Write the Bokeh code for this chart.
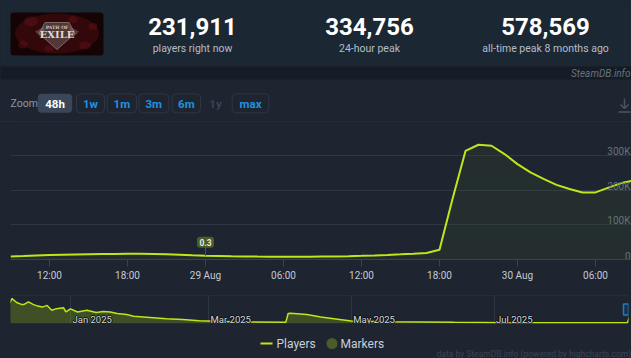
import pandas as pd
from bokeh.plotting import figure
from bokeh.layouts import column
from bokeh.models import Range1d, FixedTicker, Grid, Span
from bokeh.core.properties import value
from bokeh.embed import file_html
from bokeh.resources import INLINE

# ---------------- data ----------------
stat_values = ["231,911", "334,756", "578,569"]
stat_labels = ["players right now", "24-hour peak", "all-time peak 8 months ago"]
zoom_buttons = ["48h", "1w", "1m", "3m", "6m", "1y", "max"]
zoom_active = "48h"
zoom_disabled = ["1y"]

players_start = "2025-08-28 09:00"  # hourly samples from here
players_k = [8.7, 10.0, 11.5, 12.7, 13.5, 14.3, 15.0, 15.6, 16.1, 16.5,
             16.5, 16.0, 15.0, 13.5, 12.0, 10.7, 10.0, 9.4, 8.9, 8.4,
             8.0, 7.8, 7.9, 8.2, 8.6, 9.0, 9.6, 10.5, 11.8, 13.3,
             15.0, 16.8, 19.0, 28.0, 175, 314, 332, 329, 305, 276,
             252, 233, 216, 204, 194, 194, 208, 221, 229]
time_ticks = ["2025-08-28 12:00", "2025-08-28 18:00", "2025-08-29 00:00", "2025-08-29 06:00",
              "2025-08-29 12:00", "2025-08-29 18:00", "2025-08-30 00:00", "2025-08-30 06:00"]
time_tick_labels = ["12:00", "18:00", "29 Aug", "06:00", "12:00", "18:00", "30 Aug", "06:00"]
y_ticks = [0, 100000, 200000, 300000]
y_tick_labels = ["0", "100K", "200K", "300K"]
marker_times = ["2025-08-29 00:00"]
marker_labels = ["0.3"]

nav_dates = ["2024-12-06", "2024-12-07", "2024-12-09", "2024-12-11", "2024-12-12", "2024-12-14",
             "2024-12-16", "2024-12-18", "2024-12-20", "2024-12-22", "2024-12-24", "2024-12-26",
             "2024-12-29", "2024-12-30", "2025-01-01", "2025-01-04", "2025-01-08", "2025-01-12",
             "2025-01-15", "2025-01-18", "2025-01-21", "2025-01-25", "2025-01-28", "2025-02-04",
             "2025-02-11", "2025-02-18", "2025-02-25", "2025-03-01", "2025-03-11", "2025-04-03",
             "2025-04-04", "2025-04-05", "2025-04-12", "2025-04-18", "2025-04-26", "2025-05-01",
             "2025-05-16", "2025-06-14", "2025-07-12", "2025-08-27", "2025-08-29"]
nav_players_k = [472, 578, 488, 443, 440, 504,
                 443, 404, 381, 420, 306, 345,
                 368, 268, 340, 268, 306, 254,
                 280, 268, 232, 209, 170, 141,
                 109, 95, 64, 57, 41, 27,
                 232, 238, 209, 150, 95, 57,
                 41, 27, 18, 18, 334]
nav_ticks = ["2025-01-01", "2025-03-01", "2025-05-01", "2025-07-01"]
nav_tick_labels = ["Jan 2025", "Mar 2025", "May 2025", "Jul 2025"]
legend_labels = ["Players", "Markers"]

# ---------------- style ----------------
W = 631
CHART_BG = "#1e2531"
HEADER_BG = "#1c2734"
BAND_BG = "#161c25"
GRID = "#2c3644"
LINE = "#bfe61a"
MARKER = "#4b5c2b"
FONT = "Roboto"
HOUR = 3600000.0


def ms(s):
    return pd.Timestamp(s).value / 1e6


def txt(fig, x, y, s, size, color, style="normal", align="left", baseline="middle",
        font=FONT, xo=0, yo=0):
    fig.text(x=[x], y=[y], text=[s], text_font=value(font), text_font_size=size,
             text_color=color, text_font_style=style, text_align=align,
             text_baseline=baseline, x_offset=xo, y_offset=yo)


def pixel_fig(h, y0):
    f = figure(width=W, height=h, output_backend="svg", toolbar_location=None,
               x_range=Range1d(0, W), y_range=Range1d(y0 + h, y0),
               x_axis_location=None, y_axis_location=None,
               min_border=0, min_border_left=0, min_border_right=0,
               min_border_top=0, min_border_bottom=0, frame_align=False,
               background_fill_color=CHART_BG, border_fill_color=CHART_BG,
               outline_line_color=None)
    f.grid.visible = False
    return f


# ---------------- header / toolbar ----------------
top = pixel_fig(122, 0)
top.quad(left=[0], right=[W], top=[0], bottom=[66], fill_color=HEADER_BG, line_color=None)
top.quad(left=[0], right=[W], top=[66], bottom=[79], fill_color=BAND_BG, line_color=None)

# logo
LX = 56.5
top.quad(left=[10], right=[103], top=[12], bottom=[55], fill_color="#140405", line_color=None,
         border_radius=3)
top.ellipse(x=[LX], y=[33], width=84, height=40, fill_color="#4a0c10", fill_alpha=0.55, line_color=None)
top.ellipse(x=[LX - 26, LX + 28, LX - 8, LX + 16, LX - 34, LX + 36],
            y=[21, 45, 48, 19, 44, 26], width=[14, 12, 10, 9, 10, 9], height=[10, 8, 6, 7, 8, 7],
            fill_color="#6e1418", fill_alpha=0.4, line_color=None)
top.patch(x=[LX - 12, LX + 12, LX + 18, LX, LX - 18], y=[22, 22, 33, 49, 33], fill_color="#7a7472",
          fill_alpha=0.45, line_color="#a09a96", line_alpha=0.6)
top.patch(x=[LX - 22, LX - 12, LX - 15], y=[31, 26, 38], fill_color="#8a8480", fill_alpha=0.4, line_color=None)
top.patch(x=[LX + 22, LX + 12, LX + 15], y=[31, 26, 38], fill_color="#8a8480", fill_alpha=0.4, line_color=None)
txt(top, LX, 26.5, "PATH OF", "4.5px", "#cfc9c4", style="bold", align="center", font="DejaVu Serif")
txt(top, LX, 33.5, "EXILE", "10px", "#e0dad5", style="bold", align="center", font="DejaVu Serif")

stat_x = [192, 369, 545]
for sx, v, l in zip(stat_x, stat_values, stat_labels):
    txt(top, sx, 26, v, "24px", "#ffffff", style="bold", align="center")
    txt(top, sx, 48, l, "10.5px", "#b4bdc7", align="center")

txt(top, 630, 73, "SteamDB.info", "10px", "#69737e", style="italic", align="right")

# zoom buttons
txt(top, 10, 102.5, "Zoom", "10.5px", "#8e98a3")
btn_lr = [(37.3, 71.7), (76, 104), (106.7, 136), (138.3, 168.3), (171.7, 200), (208, 222), (231.7, 268.3)]
for (l, r), b in zip(btn_lr, zoom_buttons):
    if b == zoom_active:
        top.quad(left=[l], right=[r], top=[93.3], bottom=[112.3], fill_color="#3a4758",
                 line_color=None, border_radius=4)
        col = "#ffffff"
    elif b in zoom_disabled:
        col = "#3a4452"
    else:
        top.quad(left=[l], right=[r], top=[93.3], bottom=[112.3], fill_color=CHART_BG,
                 line_color="#2b3747", line_width=1, border_radius=4)
        col = "#1e93dd"
    txt(top, (l + r) / 2, 103, b, "11.5px", col, style="bold", align="center")

# download icon
ic = "#4a5563"
top.segment(x0=[624, 620, 628, 618], y0=[98, 104, 104, 111.5],
            x1=[624, 624, 624, 630], y1=[108, 108, 108, 111.5], line_color=ic, line_width=1.5)
top.segment(x0=[0], y0=[121.5], x1=[W], y1=[121.5], line_color="#2a3441", line_width=1)

# ---------------- main chart ----------------
t_players = [ms(players_start) + i * HOUR for i in range(len(players_k))]
players = [v * 1000 for v in players_k]
PX_PER_HOUR = 13.0
FRAME_W = W - 10
FRAME_H = 137
PX_PER_100K = 34.57
x0 = t_players[0]
x1 = x0 + FRAME_W / PX_PER_HOUR * HOUR
y_end = FRAME_H / PX_PER_100K * 100000

main = figure(width=W, height=161, output_backend="svg", toolbar_location=None,
              x_range=Range1d(x0, x1), y_range=Range1d(0, y_end),
              y_axis_location=None, frame_align=False,
              min_border_left=10, min_border_right=0, min_border_top=0, min_border_bottom=0,
              background_fill_color=CHART_BG, border_fill_color=CHART_BG,
              outline_line_color=None)
main.grid.visible = False
main.add_layout(Grid(dimension=1, ticker=FixedTicker(ticks=y_ticks[1:]),
                     grid_line_color=GRID, grid_line_width=1))

tick_ms = [ms(t) for t in time_ticks]
ax = main.xaxis[0]
ax.ticker = FixedTicker(ticks=tick_ms)
ax.major_label_overrides = {t: l for t, l in zip(tick_ms, time_tick_labels)}
ax.axis_line_color = "#384353"
ax.major_tick_line_color = "#384353"
ax.major_tick_in = 0
ax.major_tick_out = 7
ax.minor_tick_line_color = None
ax.major_label_standoff = 3
ax.major_label_text_color = "#c3cad2"
ax.major_label_text_font = FONT
ax.major_label_text_font_size = "10px"

main.varea(x=t_players, y1=[0] * len(players), y2=players, fill_color="#a4d007", fill_alpha=0.05)
main.line(x=t_players, y=players, line_color=LINE, line_width=2)

# y labels drawn at the right edge, inside the plot
for yv, yl in zip(y_ticks, y_tick_labels):
    txt(main, x1, yv, yl, "10px", "#66717d", align="right", xo=-1, yo=-4)

# flag marker
units_per_px = 100000 / PX_PER_100K
ms_per_px = HOUR / PX_PER_HOUR
for mt, ml in zip(marker_times, marker_labels):
    mx = ms(mt)
    base = players[t_players.index(mx)]
    main.segment(x0=[mx], y0=[base], x1=[mx], y1=[base + 9 * units_per_px],
                 line_color=MARKER, line_width=1)
    main.quad(left=[mx - 8.5 * ms_per_px], right=[mx + 8.5 * ms_per_px],
              bottom=[base + 8 * units_per_px], top=[base + 19 * units_per_px],
              fill_color=MARKER, line_color=None, border_radius=3)
    main.text(x=[mx], y=[base + 13.5 * units_per_px], text=[ml], text_font=value(FONT),
              text_font_size="8.5px", text_color="#e6ecd8", text_font_style="bold",
              text_align="center", text_baseline="middle")

# ---------------- navigator ----------------
nav_t = [ms(d) for d in nav_dates]
nav_v = [v * 1000 for v in nav_players_k]
PX_PER_DAY = 2.34
DAY = 24 * HOUR
NAV_W = W - 10 - 3
anchor = ms(nav_ticks[0])
n0 = anchor - 60 / PX_PER_DAY * DAY
n1 = n0 + NAV_W / PX_PER_DAY * DAY

nav = figure(width=W, height=48, output_backend="svg", toolbar_location=None,
             x_range=Range1d(n0, n1), y_range=Range1d(0, 650000),
             x_axis_location=None, y_axis_location=None, frame_align=False,
             min_border_left=10, min_border_right=3, min_border_top=12, min_border_bottom=8,
             background_fill_color=CHART_BG, border_fill_color=CHART_BG,
             outline_line_color=None)
nav.grid.visible = False
nav_tick_ms = [ms(t) for t in nav_ticks]
nav.add_layout(Grid(dimension=0, ticker=FixedTicker(ticks=nav_tick_ms),
                    grid_line_color=GRID, grid_line_width=1))
nav.add_layout(Span(location=650000, dimension="width", line_color=GRID, line_width=1))
nav.varea(x=nav_t, y1=[0] * len(nav_v), y2=nav_v, fill_color="#a4d007", fill_alpha=0.25)
nav.line(x=nav_t, y=nav_v, line_color=LINE, line_width=1.5)
for tx, tl in zip(nav_tick_ms, nav_tick_labels):
    for dx, dy in [(-1, 0), (1, 0), (0, -1), (0, 1)]:
        txt(nav, tx, 0, tl, "9.5px", "#0b0f14", xo=2 + dx, yo=-4.5 + dy)
    txt(nav, tx, 0, tl, "9.5px", "#d4d8dc", xo=2, yo=-4.5)
# right handle of the navigator
hx = n1 - 2.5 * DAY / PX_PER_DAY
nav.rect(x=[hx], y=[650000 * 0.5], width=5, height=11, width_units="screen", height_units="screen",
         fill_color="#1b3046", line_color="#1f7cbf", line_width=1.5)

# ---------------- legend / footer ----------------
bot = pixel_fig(27, 331)
bot.segment(x0=[260], y0=[343], x1=[272], y1=[343], line_color=LINE, line_width=2)
txt(bot, 276, 343, legend_labels[0], "12px", "#c6d0da")
bot.scatter(x=[331.5], y=[343], size=11, marker="circle", fill_color=MARKER, line_color=None)
txt(bot, 340, 343, legend_labels[1], "12px", "#c6d0da")
txt(bot, 436, 353, "data by SteamDB.info (powered by highcharts.com)", "8.5px", "#3a4451")

layout = column(top, main, nav, bot, spacing=0, styles={"background-color": CHART_BG})
open("out.html", "w").write(file_html(layout, INLINE))
